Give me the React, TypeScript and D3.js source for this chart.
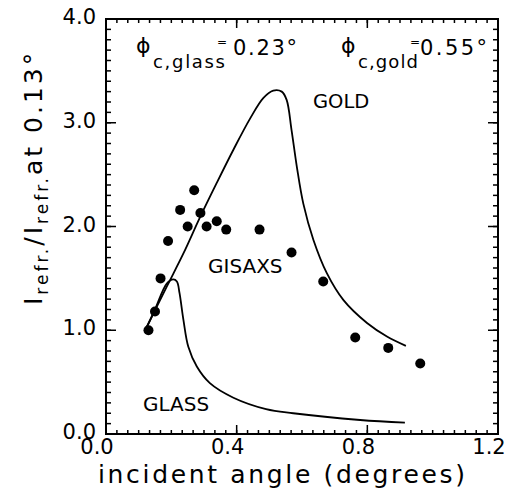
import * as d3 from 'd3'

// GISAXS intensity ratio, measured points
const pointAngle = [0.13, 0.15, 0.167, 0.19, 0.227, 0.25, 0.27, 0.289, 0.308, 0.339, 0.368, 0.47, 0.568, 0.665, 0.763, 0.864, 0.962]
const pointRatio = [1.0, 1.18, 1.5, 1.86, 2.16, 2.0, 2.35, 2.13, 2.0, 2.05, 1.97, 1.97, 1.75, 1.47, 0.93, 0.83, 0.68]

// calculated reflectivity curves
const goldAngle = [0.12, 0.186, 0.237, 0.288, 0.339, 0.39, 0.441, 0.482, 0.512, 0.538, 0.553, 0.568, 0.584, 0.604, 0.635, 0.676, 0.727, 0.799, 0.86, 0.918]
const goldRatio = [1.0, 1.42, 1.74, 2.09, 2.42, 2.74, 3.04, 3.24, 3.31, 3.3, 3.22, 2.93, 2.58, 2.22, 1.87, 1.55, 1.29, 1.07, 0.94, 0.85]
const glassAngle = [0.12, 0.15, 0.186, 0.206, 0.217, 0.225, 0.237, 0.252, 0.278, 0.318, 0.39, 0.49, 0.573, 0.778, 0.915]
const glassRatio = [1.0, 1.2, 1.45, 1.49, 1.47, 1.36, 1.1, 0.84, 0.65, 0.49, 0.35, 0.24, 0.2, 0.135, 0.11]

const xTickLabels = ['0.0', '0.4', '0.8', '1.2']
const yTickLabels = ['0.0', '1.0', '2.0', '3.0', '4.0']

const font = 'DejaVu Sans, sans-serif'

export default function App() {
  const width = 507
  const height = 502
  const margin = { top: 19, right: 9, bottom: 68, left: 106 }
  const x0 = margin.left
  const x1 = width - margin.right
  const y0 = margin.top
  const y1 = height - margin.bottom

  const x = d3.scaleLinear().domain([0, 1.2]).range([x0, x1])
  const y = d3.scaleLinear().domain([0, 4]).range([y1, y0])

  const line = d3.line<[number, number]>()
    .x(d => x(d[0]))
    .y(d => y(d[1]))
    .curve(d3.curveCatmullRom.alpha(0.5))

  const gold = goldAngle.map((a, i) => [a, goldRatio[i]] as [number, number])
  const glass = glassAngle.map((a, i) => [a, glassRatio[i]] as [number, number])

  // minor ticks every 1/30 on x, 0.1 on y
  const xMinor = d3.range(0, 36).map(i => i / 30)
  const xMajor = xTickLabels.map(Number)
  const yMinor = d3.range(0, 41).map(i => i / 10)
  const yMajor = yTickLabels.map(Number)

  return (
    <svg width={width} height={height} style={{ position: 'absolute', left: 0, top: 0, background: '#fff' }} fontFamily={font}>
      {/* ticks, all pointing inward */}
      <g stroke="#000" strokeWidth={1.5}>
        {xMinor.map((t, i) => (
          <g key={'xm' + i}>
            <line x1={x(t)} x2={x(t)} y1={y1} y2={y1 - 4} />
            <line x1={x(t)} x2={x(t)} y1={y0} y2={y0 + 4} />
          </g>
        ))}
        {xMajor.map((t, i) => (
          <g key={'xM' + i}>
            <line x1={x(t)} x2={x(t)} y1={y1} y2={y1 - 9} />
            <line x1={x(t)} x2={x(t)} y1={y0} y2={y0 + 9} />
          </g>
        ))}
        {yMinor.map((t, i) => (
          <g key={'ym' + i}>
            <line x1={x0} x2={x0 + 5} y1={y(t)} y2={y(t)} />
            <line x1={x1} x2={x1 - 5} y1={y(t)} y2={y(t)} />
          </g>
        ))}
        {yMajor.map((t, i) => (
          <g key={'yM' + i}>
            <line x1={x0} x2={x0 + 10} y1={y(t)} y2={y(t)} />
            <line x1={x1} x2={x1 - 10} y1={y(t)} y2={y(t)} />
          </g>
        ))}
      </g>
      <rect x={x0} y={y0} width={x1 - x0} height={y1 - y0} fill="none" stroke="#000" strokeWidth={2} />

      {/* tick labels */}
      {xTickLabels.map(l => (
        <text key={'xl' + l} x={x(Number(l)) - 9} y={y1 + 20} fontSize={21} textAnchor="middle">{l}</text>
      ))}
      {yTickLabels.map(l => (
        <text key={'yl' + l} x={x0 - 10} y={y(Number(l)) + 5} fontSize={21} textAnchor="end">{l}</text>
      ))}

      {/* axis titles */}
      <text x={98} y={483} fontSize={25} textLength={367} lengthAdjust="spacing">incident angle (degrees)</text>
      <text transform="translate(42, 305) rotate(-90)" fontSize={25} letterSpacing={3}>
        I<tspan fontSize={17} dy={6}>refr.</tspan>
        <tspan dy={-6}>/I</tspan>
        <tspan fontSize={17} dy={6}>refr.</tspan>
        <tspan dy={-6}>at  0.13°</tspan>
      </text>

      {/* curves */}
      <path d={line(gold) || ''} fill="none" stroke="#000" strokeWidth={1.8} />
      <path d={line(glass) || ''} fill="none" stroke="#000" strokeWidth={1.8} />

      {/* GISAXS points */}
      {pointAngle.map((a, i) => (
        <circle key={'p' + i} cx={x(a)} cy={y(pointRatio[i])} r={5} fill="#000" />
      ))}

      {/* curve labels */}
      <text x={313} y={108} fontSize={19.5}>GOLD</text>
      <text x={208} y={273} fontSize={20}>GISAXS</text>
      <text x={143} y={411} fontSize={20}>GLASS</text>

      {/* critical angles */}
      <text x={136} y={53} fontSize={22}>ϕ</text>
      <text x={153} y={68} fontSize={18} textLength={72} lengthAdjust="spacing">c,glass</text>
      <text x={217} y={46} fontSize={12}>=</text>
      <text x={233} y={55} fontSize={21} textLength={64} lengthAdjust="spacing">0.23°</text>
      <text x={341} y={53} fontSize={22}>ϕ</text>
      <text x={358} y={68} fontSize={18} textLength={60} lengthAdjust="spacing">c,gold</text>
      <text x={410} y={46} fontSize={12}>=</text>
      <text x={420} y={55} fontSize={21} textLength={67} lengthAdjust="spacing">0.55°</text>
    </svg>
  )
}
